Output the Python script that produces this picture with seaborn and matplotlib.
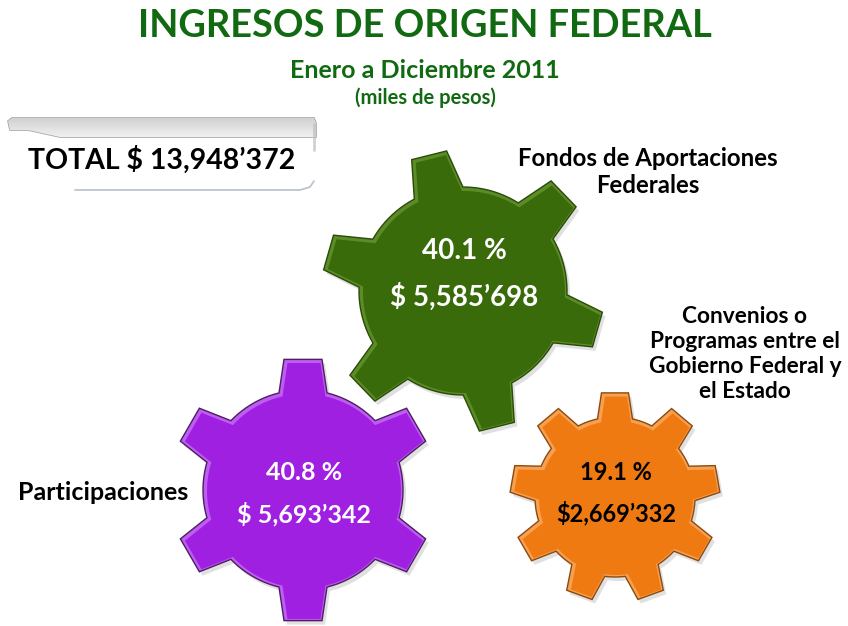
import numpy as np
import matplotlib.pyplot as plt
import seaborn as sns
from matplotlib.patches import Polygon

# data
categories = ["Fondos de Aportaciones\nFederales",
              "Participaciones",
              "Convenios o\nProgramas entre el\nGobierno Federal y\nel Estado"]
percents = [40.1, 40.8, 19.1]
amounts = [5585698, 5693342, 2669332]
currency = ["$ ", "$ ", "$"]
gear_colors = ["#3a6b0a", "#a020e2", "#f07a12"]
rim_colors = ["#5c8c26", "#bf5cf2", "#f6a050"]
edge_colors = ["#2a4a08", "#4a2060", "#8a4a10"]
value_colors = ["white", "white", "black"]

title = "INGRESOS DE ORIGEN FEDERAL"
subtitle = "Enero a Diciembre 2011"
units = "(miles de pesos)"


def fmt_amount(v, prefix):
    s = f"{v:,}"
    head, tail = s.rsplit(",", 1)
    return f"{prefix}{head}\u2019{tail}"


def gear_points(cx, cy, r, R, n, phase, w_tip, w_base, steps=12):
    pts = []
    a_t = np.arcsin(w_tip / 2 / R)
    a_b = np.arcsin(w_base / 2 / r)
    step = 2 * np.pi / n
    for k in range(n):
        th = np.deg2rad(phase) + k * step
        pts.append((cx + r * np.cos(th - a_b), cy - r * np.sin(th - a_b)))
        pts.append((cx + R * np.cos(th - a_t), cy - R * np.sin(th - a_t)))
        pts.append((cx + R * np.cos(th + a_t), cy - R * np.sin(th + a_t)))
        pts.append((cx + r * np.cos(th + a_b), cy - r * np.sin(th + a_b)))
        arc = np.linspace(th + a_b, th + step - a_b, steps)[1:-1]
        for a in arc:
            pts.append((cx + r * np.cos(a), cy - r * np.sin(a)))
    return np.array(pts)


sns.set_theme(style="white")
plt.rcParams['font.family'] = ['Lato', 'DejaVu Sans']

fig = plt.figure(figsize=(8.48, 6.26), dpi=100)
ax = fig.add_axes([0, 0, 1, 1])
ax.set_xlim(0, 848)
ax.set_ylim(626, 0)
ax.axis('off')

# titles
ax.text(425, 26, title, ha='center', va='center', fontsize=27.4,
        fontweight='bold', color='#116a11')
ax.text(425, 70, subtitle, ha='center', va='center', fontsize=18,
        fontweight='bold', color='#116a11')
ax.text(425, 98, units, ha='center', va='center', fontsize=14.5,
        fontweight='bold', color='#116a11')

# total box: grey top band, fading right edge, thin bottom line
grad = np.linspace(0.82, 0.94, 20).reshape(-1, 1)
band = Polygon([(8, 121), (12, 118), (314, 118), (316, 123), (316, 137),
                (60, 137), (28, 130), (10, 130)], closed=True,
               facecolor='none', edgecolor='#a8a8a8', linewidth=1.2)
ax.add_patch(band)
im = ax.imshow(grad, cmap='gray', vmin=0, vmax=1, extent=(8, 316, 137, 118),
               aspect='auto', zorder=1)
im.set_clip_path(band)
ax.plot([314, 314], [124, 150], color='#bdbdbd', lw=2, alpha=0.7)
ax.plot([75, 300, 310, 314], [190, 190, 187, 181], color='#b8c0cc', lw=1.2)
ax.set_xlim(0, 848)
ax.set_ylim(626, 0)
ax.text(162, 160, f"TOTAL $ {fmt_amount(sum(amounts), '')}", ha='center',
        va='center', fontsize=20.5, fontweight='bold', color='black')

# gears: green, purple, orange
layout = [
    dict(cx=463, cy=291, r=104, R=141, n=6, phase=104, w_tip=36, w_base=50),
    dict(cx=303, cy=490, r=100, R=132, n=6, phase=90, w_tip=38, w_base=48),
    dict(cx=615, cy=497, r=80, R=105, n=9, phase=90, w_tip=27, w_base=35),
]
text_y = [(251, 297), (472, 514), (473, 513)]
text_size = [(20, 20), (18, 18), (17, 17)]
label_pos = [(648, 172, 'center', 17.3), (18, 492, 'left', 18),
             (745, 354, 'center', 16.3)]

for i, g in enumerate(layout):
    shadow = gear_points(g['cx'] + 3, g['cy'] + 4, g['r'], g['R'], g['n'],
                         g['phase'], g['w_tip'], g['w_base'])
    ax.add_patch(Polygon(shadow, closed=True, facecolor='#000000', alpha=0.12,
                         edgecolor='none'))
    outer = gear_points(**g)
    ax.add_patch(Polygon(outer, closed=True, facecolor=rim_colors[i],
                         edgecolor=edge_colors[i], linewidth=1.0))
    inner = gear_points(g['cx'] + 1, g['cy'] + 1, g['r'] - 3, g['R'] - 3,
                        g['n'], g['phase'], g['w_tip'] - 5, g['w_base'] - 5)
    ax.add_patch(Polygon(inner, closed=True, facecolor=gear_colors[i],
                         edgecolor='none'))

    py, ay = text_y[i]
    ps, as_ = text_size[i]
    ax.text(g['cx'] + 1, py, f"{percents[i]} %", ha='center', va='center',
            fontsize=ps, fontweight='bold', color=value_colors[i])
    ax.text(g['cx'] + 1, ay, fmt_amount(amounts[i], currency[i]),
            ha='center', va='center', fontsize=as_, fontweight='bold',
            color=value_colors[i])

    lx, ly, ha, fs = label_pos[i]
    ax.text(lx, ly, categories[i], ha=ha, va='center', fontsize=fs,
            fontweight='bold', color='black', linespacing=1.22)

fig.savefig('out.png', dpi=100)
